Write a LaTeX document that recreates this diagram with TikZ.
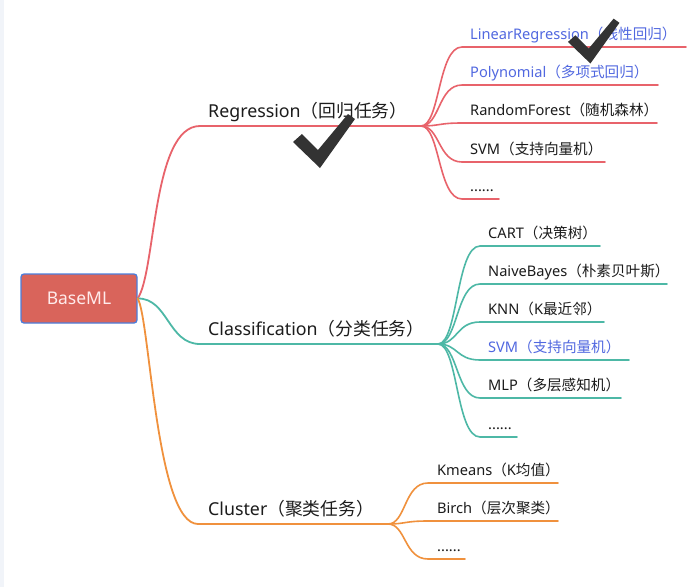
\documentclass[tikz,border=0pt]{standalone}
\usepackage{fontspec}
\setmainfont{Noto Sans}
\newfontfamily\cjkfont{Noto Sans CJK SC}
\newcommand\zh[1]{{\cjkfont #1}}
\definecolor{redl}{HTML}{E8636B}
\definecolor{teall}{HTML}{4DB8A6}
\definecolor{orangel}{HTML}{F0913D}
\definecolor{bluet}{HTML}{5168E0}
\definecolor{darkt}{HTML}{1C1C1C}
\definecolor{rootfill}{HTML}{D9645B}
\definecolor{rootedge}{HTML}{4C7EDC}
\definecolor{tickc}{HTML}{333333}
\definecolor{stripc}{HTML}{F1F4F9}
\begin{document}
\begin{tikzpicture}[x=1pt,y=-1pt,
  rootbox/.style={draw=rootedge,line width=1.3pt,fill=rootfill,rounded corners=3pt,
    minimum width=116pt,minimum height=49pt,text=white!92!red,font=\fontsize{17.5}{20}\selectfont},
  mainlbl/.style={anchor=base west,inner sep=0pt,text=darkt,font=\fontsize{17.8}{20}\selectfont},
  sublbl/.style={anchor=base west,inner sep=0pt,text=darkt,font=\fontsize{14.6}{17}\selectfont},
  hilbl/.style={sublbl,text=bluet},
  branch/.style={line width=1.8pt,line cap=round},
  subbranch/.style={line width=1.6pt,line cap=round},
  tick/.pic={\fill[tickc] (0,30) -- (9,22) -- (25,38) -- (55,2) -- (62,7) -- (27,56) -- cycle;}
]
\useasboundingbox (0,0) rectangle (697,587);
\fill[white] (0,0) rectangle (697,587);
\fill[stripc] (0,0) rectangle (4,587);

% root
\node[rootbox] (root) at (79,298.5) {BaseML};

% ---------- Regression ----------
\coordinate (regL) at (200,126);
\coordinate (regR) at (421,126);
\draw[branch,redl] (root.east) .. controls (156,272) and (152,126) .. (regL) -- (regR);
\node[mainlbl] (reg) at (208,117) {Regression\zh{（回归任务）}};

\foreach \n/\y/\e in {1/47/686,2/85/658,3/123/657,4/162/605,5/199/499}{
  \coordinate (rs\n) at (462,\y);
  \coordinate (re\n) at (\e,\y);
  \draw[subbranch,redl] (regR) .. controls (440,126) and (438,\y) .. (rs\n) -- (re\n);
}
\node[hilbl] (r1) at (470,39) {LinearRegression\zh{（线性回归）}};
\node[hilbl] (r2) at (470,77) {Polynomial\zh{（多项式回归）}};
\node[sublbl] (r3) at (470,115) {RandomForest\zh{（随机森林）}};
\node[sublbl] (r4) at (470,154) {SVM\zh{（支持向量机）}};
\node[sublbl] (r5) at (470,191) {......};

% ---------- Classification ----------
\coordinate (clsL) at (200,344);
\coordinate (clsR) at (438,344);
\draw[branch,teall] (root.east) .. controls (168,298) and (168,344) .. (clsL) -- (clsR);
\node[mainlbl] (cls) at (208,335) {Classification\zh{（分类任务）}};

\foreach \n/\y/\e in {1/246/600,2/284/667,3/322/604,4/360/629,5/398/621,6/437/517}{
  \coordinate (cs\n) at (480,\y);
  \coordinate (ce\n) at (\e,\y);
  \draw[subbranch,teall] (clsR) .. controls (458,344) and (456,\y) .. (cs\n) -- (ce\n);
}
\node[sublbl] (c1) at (488,238) {CART\zh{（决策树）}};
\node[sublbl] (c2) at (488,276) {NaiveBayes\zh{（朴素贝叶斯）}};
\node[sublbl] (c3) at (488,314) {KNN\zh{（}K\zh{最近邻）}};
\node[hilbl] (c4) at (488,352) {SVM\zh{（支持向量机）}};
\node[sublbl] (c5) at (488,390) {MLP\zh{（多层感知机）}};
\node[sublbl] (c6) at (488,429) {......};

% ---------- Cluster ----------
\coordinate (cluL) at (198,524);
\coordinate (cluR) at (388,524);
\draw[branch,orangel] (root.east) .. controls (150,318) and (156,524) .. (cluL) -- (cluR);
\node[mainlbl] (clu) at (208,515) {Cluster\zh{（聚类任务）}};

\foreach \n/\y/\e in {1/483/558,2/521/558,3/559/465}{
  \coordinate (ks\n) at (428,\y);
  \coordinate (ke\n) at (\e,\y);
  \draw[subbranch,orangel] (cluR) .. controls (406,524) and (404,\y) .. (ks\n) -- (ke\n);
}
\node[sublbl] (k1) at (437,475) {Kmeans\zh{（}K\zh{均值）}};
\node[sublbl] (k2) at (437,513) {Birch\zh{（层次聚类）}};
\node[sublbl] (k3) at (437,551) {......};

% ---------- check marks ----------
\pic at (293,112) {tick};
\pic[scale=0.83] at (568,17) {tick};
\end{tikzpicture}
\end{document}
